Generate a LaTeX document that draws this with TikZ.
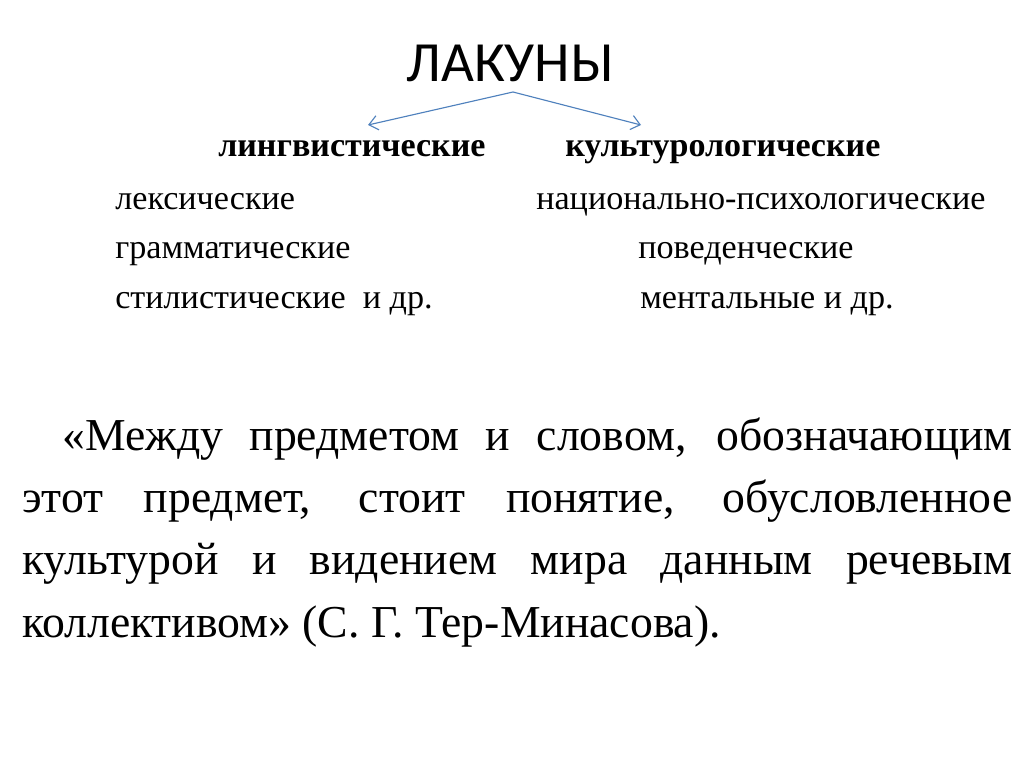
\documentclass[tikz,border=0pt]{standalone}
\usepackage{fontspec}
\setmainfont{Liberation Serif}
\newfontfamily\titlefont{Carlito}
\usetikzlibrary{arrows.meta}
\definecolor{arrowblue}{RGB}{79,129,189}

\begin{document}
\begin{tikzpicture}[x=0.025cm,y=-0.025cm,
			every node/.style={inner sep=0pt,anchor=base west},
			title/.style={anchor=base,font=\titlefont\fontsize{40.4}{48}\selectfont},
			branch/.style={font=\bfseries\fontsize{24.2}{29}\selectfont},
			item/.style={font=\fontsize{24.3}{29}\selectfont},
			quote/.style={font=\fontsize{32.5}{39}\selectfont},
			split/.style={draw=arrowblue,line width=0.8pt,-{Straight Barb[length=2.2mm,width=3.6mm]}}]

			\useasboundingbox[fill=white] (0,0) rectangle (1024,767);

			\node [title] (lacunae) at (510,82) {ЛАКУНЫ};
			\coordinate (fork) at (513,92);

			% two branches
			\node [branch] (ling) at (218,157) {лингвистические};
			\node [branch] (cult) at (565,157) {культурологические};
			\coordinate (lingtip) at (368,125);
			\coordinate (culttip) at (641,125);
			\draw [split] (fork) -- (lingtip);
			\draw [split] (fork) -- (culttip);

			% kinds
			\node [item] (lex) at (115,210) {лексические};
			\node [item] (gram) at (115,258) {грамматические};
			\node [item] (styl) at (115,308) {стилистические\ \ и др.};
			\node [item] (natpsy) at (536,210) {национально-психологические};
			\node [item] (behav) at (638,258) {поведенческие};
			\node [item] (ment) at (640,308) {ментальные и др.};

			% quotation
			\node [quote] (q1) at (62,450) {\makebox[23.75cm][s]{«Между предметом и словом, обозначающим}};
			\node [quote] (q2) at (22,512) {\makebox[24.75cm][s]{этот предмет, стоит понятие, обусловленное}};
			\node [quote] (q3) at (22,574) {\makebox[24.75cm][s]{культурой и видением мира данным речевым}};
			\node [quote] (q4) at (22,637) {коллективом» (С. Г. Тер-Минасова).};
\end{tikzpicture}
\end{document}
